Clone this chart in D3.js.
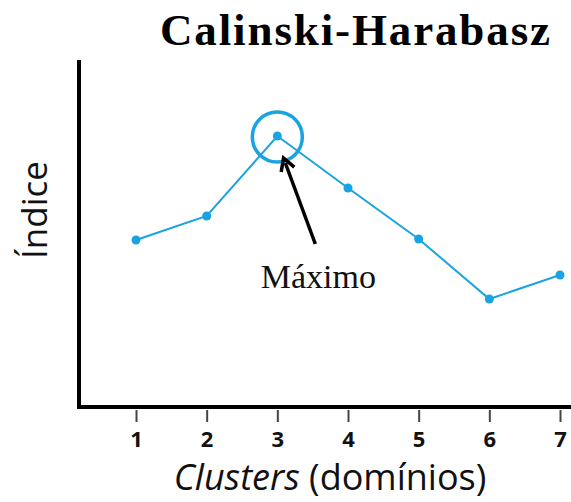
<!DOCTYPE html>
<html>
<head>
<meta charset="utf-8">
<script src="https://cdn.jsdelivr.net/npm/d3@7"></script>
<style>
  body { margin: 0; background: #fff; }
</style>
</head>
<body>
<div id="chart"></div>
<script>
// Data
const clusters = [1, 2, 3, 4, 5, 6, 7];
const indexValues = [167, 191, 271, 219, 168, 108, 132];
const title = 'Calinski-Harabasz';
const maxLabel = 'Máximo';

const width = 571;
const height = 502;
const margin = { top: 60, right: 0, bottom: 95, left: 79 };
const blue = '#1aa3e1';

const svg = d3.select('#chart')
  .append('svg')
  .attr('width', width)
  .attr('height', height);

// Scales
const x = d3.scaleLinear().domain([1, 7]).range([136, 560]);
const y = d3.scaleLinear().domain([0, 347]).range([407, 60]);

// Title
svg.append('text')
  .attr('x', 160)
  .attr('y', 45)
  .attr('textLength', 390)
  .attr('lengthAdjust', 'spacing')
  .style('font-family', 'Liberation Serif, Times New Roman, serif')
  .style('font-weight', 'bold')
  .style('font-size', '45px')
  .text(title);

// x ticks
const xAxis = d3.axisBottom(x).tickValues(clusters).tickSize(12).tickPadding(9).tickFormat(d3.format('d'));
const gx = svg.append('g')
  .attr('transform', 'translate(0,410)')
  .call(xAxis);
gx.select('.domain').remove();
gx.selectAll('.tick line').attr('stroke', '#444').attr('stroke-width', 2);
gx.selectAll('.tick text')
  .attr('fill', '#111')
  .style('font-family', 'Open Sans, sans-serif')
  .style('font-weight', 'bold')
  .style('font-size', '22px');

// Axis lines
svg.append('line')
  .attr('x1', margin.left).attr('x2', margin.left)
  .attr('y1', 60).attr('y2', 409)
  .attr('stroke', '#000').attr('stroke-width', 4);
svg.append('line')
  .attr('x1', margin.left - 2).attr('x2', width)
  .attr('y1', 407).attr('y2', 407)
  .attr('stroke', '#000').attr('stroke-width', 4);

// Axis labels
const xl = svg.append('text')
  .attr('x', 330)
  .attr('y', 490)
  .attr('text-anchor', 'middle')
  .style('font-family', 'Open Sans, sans-serif')
  .style('font-size', '36px')
  .attr('fill', '#111');
xl.append('tspan').style('font-style', 'italic').text('Clusters');
xl.append('tspan').text(' (domínios)');

svg.append('text')
  .attr('transform', 'translate(47,210) rotate(-90)')
  .attr('text-anchor', 'middle')
  .style('font-family', 'Open Sans, sans-serif')
  .style('font-size', '35px')
  .attr('fill', '#111')
  .text('Índice');

// Line
const line = d3.line()
  .x((d, i) => x(clusters[i]))
  .y(d => y(d));
svg.append('path')
  .attr('d', line(indexValues))
  .attr('fill', 'none')
  .attr('stroke', blue)
  .attr('stroke-width', 2);

svg.selectAll('.dot')
  .data(indexValues)
  .enter()
  .append('circle')
  .attr('class', 'dot')
  .attr('cx', (d, i) => x(clusters[i]))
  .attr('cy', d => y(d))
  .attr('r', 4.5)
  .attr('fill', blue);

// Max highlight
const iMax = d3.maxIndex(indexValues);
const mx = x(clusters[iMax]);
const my = y(indexValues[iMax]);
svg.append('circle')
  .attr('cx', mx)
  .attr('cy', my + 1)
  .attr('r', 25)
  .attr('fill', 'none')
  .attr('stroke', blue)
  .attr('stroke-width', 3.5);

// Arrow
svg.append('defs').append('marker')
  .attr('id', 'arrow')
  .attr('viewBox', '0 0 10 10')
  .attr('refX', 5).attr('refY', 5)
  .attr('markerWidth', 5).attr('markerHeight', 5)
  .attr('orient', 'auto')
  .append('path')
  .attr('d', 'M1,1 L8,5 L1,9')
  .attr('fill', 'none')
  .attr('stroke', '#000')
  .attr('stroke-width', 2);

svg.append('line')
  .attr('x1', mx + 38).attr('y1', my + 108)
  .attr('x2', mx + 8).attr('y2', my + 27)
  .attr('stroke', '#000')
  .attr('stroke-width', 3.5)
  .attr('marker-end', 'url(#arrow)');

svg.append('text')
  .attr('x', mx + 41)
  .attr('y', my + 152)
  .attr('text-anchor', 'middle')
  .style('font-family', 'Liberation Serif, Times New Roman, serif')
  .style('font-size', '34px')
  .attr('fill', '#111')
  .text(maxLabel);
</script>
</body>
</html>
